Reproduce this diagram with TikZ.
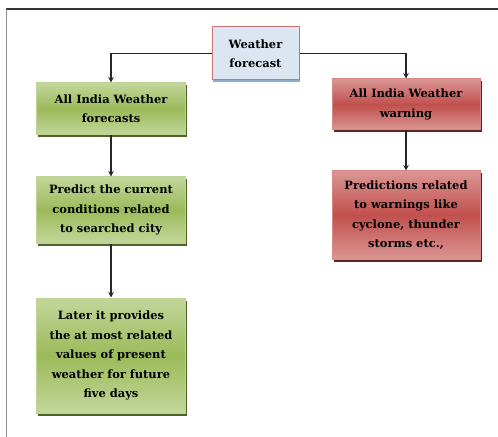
\documentclass[tikz,border=0pt]{standalone}
\usepackage{fontspec}
\setmainfont{DejaVu Serif}
\usetikzlibrary{shadows,arrows.meta}
\definecolor{gmid}{HTML}{9BBB59}
\definecolor{glight}{HTML}{C3D69B}
\definecolor{gdark}{HTML}{4F6228}
\definecolor{rmid}{HTML}{C0504D}
\definecolor{rlight}{HTML}{DA9694}
\definecolor{rdark}{HTML}{632523}
\definecolor{bfill}{HTML}{DCE6F2}
\definecolor{bshadow}{HTML}{8EAACF}
\tikzset{
  box/.style={rectangle, align=center, inner sep=0pt,
    font=\fontsize{11.5}{19.5}\selectfont\bfseries},
  gbox/.style={box, draw=glight!90!gmid, line width=1bp, top color=glight, bottom color=glight, middle color=gmid,
    drop shadow={shadow xshift=1.5bp, shadow yshift=-2.5bp, fill=gdark, opacity=1}},
  rbox/.style={box, draw=rlight!80!rmid, line width=1bp, top color=rlight, bottom color=rlight, middle color=rmid,
    drop shadow={shadow xshift=1.5bp, shadow yshift=-2.5bp, fill=rdark, opacity=1}},
  wbox/.style={box, draw=rmid!80!white, line width=1bp, fill=bfill,
    drop shadow={shadow xshift=1bp, shadow yshift=-2bp, fill=bshadow, opacity=1}},
  conn/.style={draw=black!85, line width=1.2bp, -{Stealth[length=5.5bp,width=5.5bp]}}
}
\begin{document}
\begin{tikzpicture}[x=1bp,y=-1bp]
\useasboundingbox (0,0) rectangle (498,437);
\draw[black!80, line width=1.5bp] (6,9) -- (498,9);
\draw[black!45, line width=1.5bp] (6.5,9) -- (6.5,437);
\node[wbox, minimum width=87bp, minimum height=53bp] (wf) at (255.5,53.5) {Weather\\forecast};
\node[gbox, minimum width=148bp, minimum height=52bp] (g1) at (111,109) {All India Weather\\forecasts};
\node[rbox, minimum width=148bp, minimum height=51bp] (r1) at (406,104.5) {All India Weather\\warning};
\node[gbox, minimum width=148bp, minimum height=66bp] (g2) at (111,210) {Predict the current\\conditions related\\to searched city};
\node[rbox, minimum width=148bp, minimum height=88bp] (r2) at (406,215) {Predictions related\\to warnings like\\cyclone, thunder\\storms etc.,};
\node[gbox, minimum width=148bp, minimum height=115bp] (g3) at (111,355.5) {Later it provides\\the at most related\\values of present\\weather for future\\five days};
\draw[conn] (wf.west) -| (g1.north);
\draw[conn] (wf.east) -| (r1.north);
\draw[conn] (g1.south) -- (g2.north);
\draw[conn] (g2.south) -- (g3.north);
\draw[conn] (r1.south) -- (r2.north);
\end{tikzpicture}
\end{document}
